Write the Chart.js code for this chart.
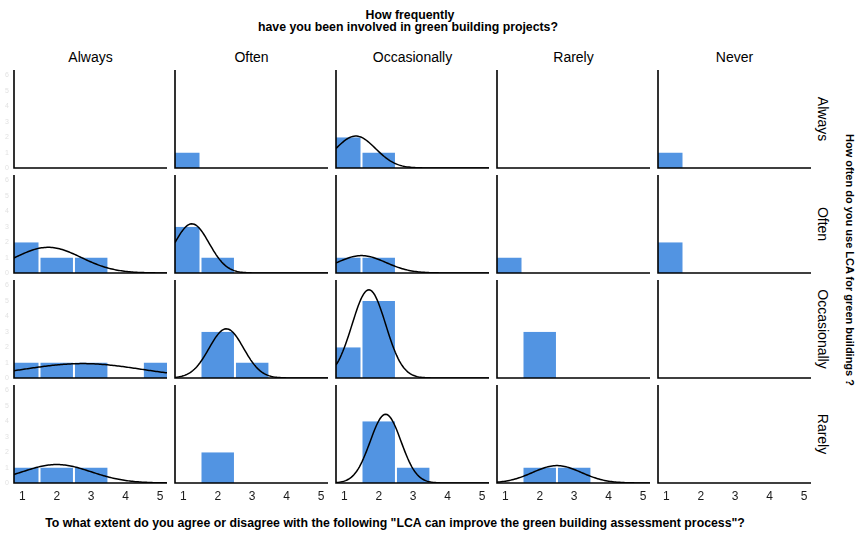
<!DOCTYPE html>
<html><head><meta charset="utf-8">
<script src="https://cdn.jsdelivr.net/npm/chart.js@4.4.1/dist/chart.umd.min.js"></script>
<style>
html,body{margin:0;padding:0;background:#fff;}
#wrap{position:relative;width:859px;height:533px;overflow:hidden;font-family:"Liberation Sans",Arial,sans-serif;color:#000;}
canvas{position:absolute;}
.t{position:absolute;white-space:nowrap;transform:translate(-50%,-50%);}
.b{font-weight:bold;font-size:12.3px;}
.s{font-weight:bold;font-size:11px;}
.h{font-size:14px;}
.r{transform:translate(-50%,-50%) rotate(90deg);}
</style></head><body><div id="wrap"></div>
<script>
// ---- data ----
const colCategories = ["Always","Often","Occasionally","Rarely","Never"];   // How frequently involved in green building projects
const rowCategories = ["Always","Often","Occasionally","Rarely"];            // How often LCA is used
const xTicks = [1,2,3,4,5];                                                  // agreement score
const yTicks = [0,1,2,3,4,5,6];
// histogram counts for scores 1..5, one list per column (involvement), one array per row (LCA use)
const countsAlways       = [[0,0,0,0,0],[1,0,0,0,0],[2,1,0,0,0],[0,0,0,0,0],[1,0,0,0,0]];
const countsOften        = [[2,1,1,0,0],[3,1,0,0,0],[1,1,0,0,0],[1,0,0,0,0],[2,0,0,0,0]];
const countsOccasionally = [[1,1,1,0,1],[0,3,1,0,0],[2,5,0,0,0],[0,3,0,0,0],[0,0,0,0,0]];
const countsRarely       = [[1,1,1,0,0],[0,2,0,0,0],[0,4,1,0,0],[0,1,1,0,0],[0,0,0,0,0]];
const rowCounts = [countsAlways, countsOften, countsOccasionally, countsRarely];

const titleLines = ["How frequently","have you been involved in green building projects?"];
const rightTitle = "How often do you use LCA for green buildings ?";
const bottomTitle = 'To what extent do you agree or disagree with the following "LCA can improve the green building assessment process"?';

// ---- layout ----
const X_MIN = 0.76, X_MAX = 5.2, Y_MAX = 6.36;
const P_LEFT = 14, P_TOP = 70, P_W = 153, P_H = 98, STEP_X = 161, STEP_Y = 105;
const BAR = '#5294e2';
const FONT = '"Liberation Sans", Arial, sans-serif';
const wrap = document.getElementById('wrap');

function addText(txt, x, y, cls){
  const d = document.createElement('div');
  d.className = 't ' + cls; d.textContent = txt;
  d.style.left = x + 'px'; d.style.top = y + 'px';
  wrap.appendChild(d);
}
addText(titleLines[0], 410, 15, 'b');
addText(titleLines[1], 408, 27, 'b');
colCategories.forEach((c,i)=>addText(c, P_LEFT + i*STEP_X + P_W/2, 57, 'h'));
rowCategories.forEach((r,j)=>addText(r, 823, P_TOP + j*STEP_Y + P_H/2, 'h r'));
addText(rightTitle, 850, 260, 's r');
addText(bottomTitle, 395, 523, 'b');

// normal density curve fitted to a panel's responses (as in the source: dnorm scaled by n * binwidth)
function fittedCurve(counts){
  const vals = [];
  counts.forEach((n,k)=>{ for(let i=0;i<n;i++) vals.push(xTicks[k]); });
  const n = vals.length;
  if(n < 2) return null;
  const m = vals.reduce((a,b)=>a+b,0)/n;
  const sd = Math.sqrt(vals.reduce((a,b)=>a+(b-m)*(b-m),0)/(n-1));
  if(!(sd > 0)) return null;
  const pts = [];
  for(let x = X_MIN; x <= X_MAX + 1e-9; x += 0.04){
    pts.push({x, y: n * Math.exp(-0.5*((x-m)/sd)**2) / (sd*Math.sqrt(2*Math.PI))});
  }
  return pts;
}

const axesPlugin = {
  id:'panelAxes',
  afterDatasetsDraw(chart, args, opts){
    const ca = chart.chartArea, ctx = chart.ctx;
    ctx.save();
    ctx.strokeStyle = '#000'; ctx.lineWidth = 1.6;
    ctx.beginPath();
    ctx.moveTo(ca.left, ca.top); ctx.lineTo(ca.left, ca.bottom); ctx.lineTo(ca.right, ca.bottom);
    ctx.stroke();
    if(opts.xLabels){
      ctx.fillStyle = '#1a1a1a'; ctx.font = '12px ' + FONT;
      ctx.textAlign = 'center'; ctx.textBaseline = 'middle';
      xTicks.forEach(v=>ctx.fillText(String(v), chart.scales.x.getPixelForValue(v), ca.bottom + 14));
    }
    if(opts.yLabels){
      ctx.fillStyle = '#e2e2e2'; ctx.font = '7px ' + FONT;
      ctx.textAlign = 'right'; ctx.textBaseline = 'middle';
      yTicks.forEach(v=>ctx.fillText(String(v), 9, chart.scales.y.getPixelForValue(v)));
    }
    ctx.restore();
  }
};

rowCounts.forEach((row, r)=>{
  row.forEach((counts, c)=>{
    const padL = c===0 ? 14 : 3, padR = 3, padT = 3, padB = r===3 ? 28 : 3;
    const left = P_LEFT + c*STEP_X, top = P_TOP + r*STEP_Y;
    const cv = document.createElement('canvas');
    cv.width = P_W + padL + padR; cv.height = P_H + padT + padB;
    cv.style.left = (left - padL) + 'px'; cv.style.top = (top - padT) + 'px';
    cv.style.width = cv.width + 'px'; cv.style.height = cv.height + 'px';
    wrap.appendChild(cv);
    const datasets = [];
    const curve = fittedCurve(counts);
    if(curve){
      datasets.push({type:'line', data:curve, borderColor:'#000', borderWidth:1.5,
        pointRadius:0, tension:0, fill:false, clip:0});
    }
    datasets.push({type:'bar', data: xTicks.map((x,k)=>({x, y:counts[k]})),
      backgroundColor:BAR, borderColor:'#fff',
      borderWidth:{left:1,right:1,top:0,bottom:0}, borderSkipped:false,
      barPercentage:1, categoryPercentage:1, inflateAmount:0, clip:0});
    new Chart(cv, {
      type:'bar',
      data:{datasets},
      options:{
        responsive:false, animation:false, devicePixelRatio:1,
        layout:{padding:{left:padL,right:padR,top:padT,bottom:padB}},
        plugins:{legend:{display:false}, tooltip:{enabled:false},
          panelAxes:{xLabels: r===3, yLabels: c===0}},
        scales:{
          x:{type:'linear', min:X_MIN, max:X_MAX, offset:false, display:false},
          y:{type:'linear', min:0, max:Y_MAX, display:false}
        }
      },
      plugins:[axesPlugin]
    });
  });
});
</script></body></html>
